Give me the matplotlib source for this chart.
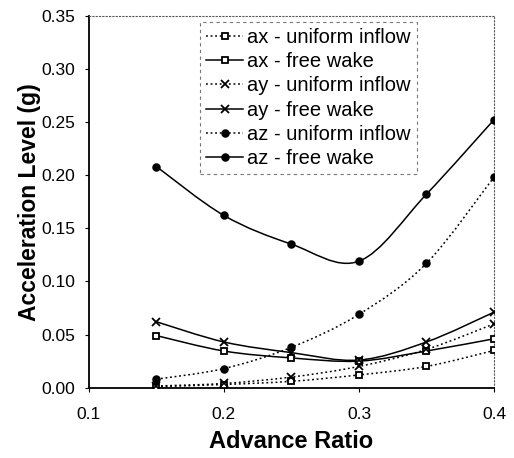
import numpy as np
import matplotlib
matplotlib.use("Agg")
import matplotlib.pyplot as plt
from matplotlib.path import Path
from matplotlib.patches import PathPatch
from matplotlib.lines import Line2D

plt.rcParams['font.family'] = ['Liberation Sans', 'DejaVu Sans']

# advance ratio
mu = [0.15, 0.20, 0.25, 0.30, 0.35, 0.40]

# acceleration levels (g)
ax_uniform = [0.001, 0.003, 0.006, 0.012, 0.020, 0.035]
ax_freewake = [0.049, 0.0345, 0.028, 0.025, 0.0345, 0.046]
ay_uniform = [0.0016, 0.004, 0.010, 0.020, 0.036, 0.060]
ay_freewake = [0.062, 0.043, 0.033, 0.026, 0.043, 0.071]
az_uniform = [0.008, 0.018, 0.038, 0.069, 0.117, 0.198]
az_freewake = [0.208, 0.162, 0.135, 0.119, 0.182, 0.252]

series = [
    ("ax - uniform inflow", ax_uniform, ":", "s", "white"),
    ("ax - free wake", ax_freewake, "-", "s", "white"),
    ("ay - uniform inflow", ay_uniform, ":", "x", "black"),
    ("ay - free wake", ay_freewake, "-", "x", "black"),
    ("az - uniform inflow", az_uniform, ":", "o", "black"),
    ("az - free wake", az_freewake, "-", "o", "black"),
]


def smooth_path(xs, ys):
    # Excel-style smoothed line: cubic bezier segments through the points
    pts = np.column_stack([xs, ys])
    n = len(pts)
    verts = [pts[0]]
    codes = [Path.MOVETO]
    for i in range(n - 1):
        p0 = pts[max(i - 1, 0)]
        p1 = pts[i]
        p2 = pts[i + 1]
        p3 = pts[min(i + 2, n - 1)]
        c1 = p1 + (p2 - p0) / 6.0
        c2 = p2 - (p3 - p1) / 6.0
        verts += [c1, c2, p2]
        codes += [Path.CURVE4] * 3
    return Path(verts, codes)


fig = plt.figure(figsize=(5.14, 4.58), dpi=100)
ax = fig.add_axes([0.173, 0.1535, 0.788, 0.8125])

handles = []
for label, vals, ls, mk, fc in series:
    ls_real = (0, (1.2, 1.8)) if ls == ":" else "-"
    patch = PathPatch(smooth_path(mu, vals), facecolor="none", edgecolor="black",
                      lw=1.1, linestyle=ls_real, zorder=2)
    ax.add_patch(patch)
    ms = {"s": 5, "x": 5.5, "o": 4.8}[mk]
    ax.plot(mu, vals, linestyle="none", marker=mk, markersize=ms,
            markerfacecolor=fc, markeredgecolor="black", markeredgewidth=1.3,
            zorder=3)
    handles.append(Line2D([], [], color="black", lw=1.1, linestyle=ls_real,
                          marker=mk, markersize=ms, markerfacecolor=fc,
                          markeredgecolor="black", markeredgewidth=1.3,
                          label=label))

ax.set_xlim(0.1, 0.4)
ax.set_ylim(0.0, 0.35)
ax.set_xticks([0.1, 0.2, 0.3, 0.4])
ax.set_xticklabels(["0.1", "0.2", "0.3", "0.4"])
ax.set_yticks(np.arange(0, 0.351, 0.05))
ax.set_yticklabels([f"{v:.2f}" for v in np.arange(0, 0.351, 0.05)])
ax.tick_params(labelsize=12.5, length=3, direction="out", width=0.8)
ax.tick_params(axis="x", pad=11)
ax.tick_params(axis="y", pad=7)

ax.spines["left"].set_linewidth(1.3)
ax.spines["bottom"].set_linewidth(1.3)
for s in ["top", "right"]:
    ax.spines[s].set_linestyle((0, (1, 2)))
    ax.spines[s].set_linewidth(0.8)
    ax.spines[s].set_color("#555555")

ax.set_xlabel("Advance Ratio", fontsize=17, fontweight="bold", labelpad=6)
ax.set_ylabel("Acceleration Level (g)", fontsize=16.5, fontweight="bold", labelpad=0)

leg = ax.legend(handles=handles, loc="upper center", bbox_to_anchor=(0.542, 0.983),
                fontsize=14.5, frameon=True, fancybox=False, handlelength=1.85,
                handletextpad=0.2, labelspacing=0.26, borderpad=0.3,
                borderaxespad=0.0)
frame = leg.get_frame()
frame.set_edgecolor("#555555")
frame.set_linewidth(0.8)
frame.set_linestyle((0, (3, 3)))

fig.savefig("out.png", dpi=100)
